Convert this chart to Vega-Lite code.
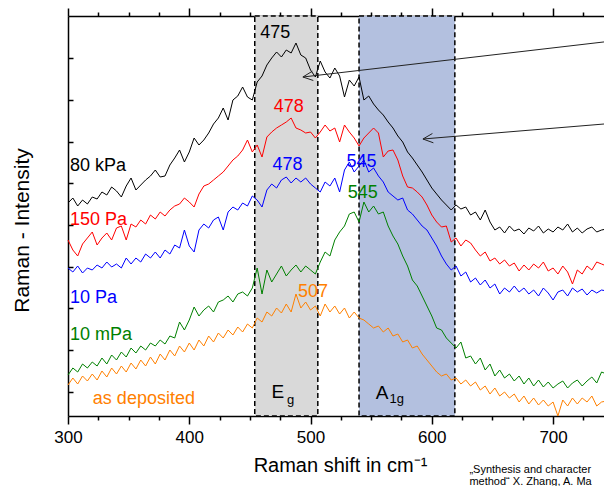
{
  "$schema": "https://vega.github.io/schema/vega-lite/v6.json",
  "width": 536,
  "height": 400,
  "autosize": {"type": "none"},
  "padding": {"left": 68, "top": 16, "right": 0, "bottom": 70},
  "background": "white",
  "config": {
    "view": {"stroke": null},
    "font": "Liberation Sans",
    "axis": {"domainColor": "black", "tickColor": "black", "domainWidth": 1.5, "tickWidth": 1.5, "grid": false, "labelColor": "black", "titleColor": "black", "labelFont": "Liberation Sans", "titleFont": "Liberation Sans", "titleFontWeight": "normal", "labelFlush": false}
  },
  "datasets": {
    "spec": [
      {"x":300,"k":213,"r":176,"p":148,"m":41,"d":31},
      {"x":304,"k":218,"r":166,"p":144,"m":48,"d":38},
      {"x":308,"k":210,"r":160,"p":150,"m":44,"d":32},
      {"x":312,"k":216,"r":172,"p":143,"m":52,"d":40},
      {"x":316,"k":212,"r":178,"p":148,"m":48,"d":35},
      {"x":320,"k":219,"r":184,"p":146,"m":54,"d":42},
      {"x":324,"k":217,"r":171,"p":151,"m":50,"d":36},
      {"x":328,"k":224,"r":178,"p":148,"m":58,"d":45},
      {"x":332,"k":221,"r":183,"p":154,"m":52,"d":39},
      {"x":336,"k":229,"r":176,"p":149,"m":61,"d":48},
      {"x":340,"k":225,"r":188,"p":152,"m":56,"d":42},
      {"x":344,"k":219,"r":190,"p":148,"m":64,"d":50},
      {"x":348,"k":230,"r":176,"p":158,"m":59,"d":44},
      {"x":352,"k":238,"r":192,"p":152,"m":68,"d":53},
      {"x":356,"k":226,"r":189,"p":158,"m":63,"d":47},
      {"x":360,"k":231,"r":196,"p":154,"m":70,"d":56},
      {"x":364,"k":236,"r":192,"p":162,"m":66,"d":50},
      {"x":368,"k":240,"r":201,"p":158,"m":73,"d":59},
      {"x":372,"k":246,"r":197,"p":164,"m":70,"d":52},
      {"x":376,"k":239,"r":204,"p":158,"m":76,"d":62},
      {"x":380,"k":240,"r":200,"p":166,"m":72,"d":56},
      {"x":384,"k":251,"r":206,"p":162,"m":80,"d":66},
      {"x":388,"k":258,"r":210,"p":171,"m":78,"d":60},
      {"x":392,"k":266,"r":212,"p":168,"m":94,"d":70},
      {"x":396,"k":254,"r":218,"p":186,"m":86,"d":64},
      {"x":400,"k":264,"r":214,"p":170,"m":96,"d":73},
      {"x":404,"k":278,"r":209,"p":164,"m":109,"d":66},
      {"x":408,"k":271,"r":222,"p":186,"m":100,"d":76},
      {"x":412,"k":276,"r":230,"p":192,"m":106,"d":70},
      {"x":416,"k":283,"r":232,"p":188,"m":110,"d":80},
      {"x":420,"k":292,"r":236,"p":196,"m":104,"d":74},
      {"x":424,"k":298,"r":240,"p":199,"m":114,"d":83},
      {"x":428,"k":308,"r":244,"p":186,"m":116,"d":78},
      {"x":432,"k":296,"r":250,"p":204,"m":120,"d":86},
      {"x":436,"k":316,"r":256,"p":209,"m":114,"d":81},
      {"x":440,"k":320,"r":260,"p":206,"m":122,"d":89},
      {"x":444,"k":329,"r":266,"p":213,"m":124,"d":84},
      {"x":448,"k":319,"r":276,"p":210,"m":120,"d":92},
      {"x":452,"k":316,"r":264,"p":220,"m":128,"d":88},
      {"x":456,"k":334,"r":271,"p":216,"m":148,"d":98},
      {"x":460,"k":340,"r":259,"p":209,"m":122,"d":94},
      {"x":464,"k":351,"r":279,"p":226,"m":146,"d":104},
      {"x":468,"k":358,"r":284,"p":232,"m":134,"d":100},
      {"x":472,"k":364,"r":288,"p":228,"m":142,"d":108},
      {"x":476,"k":359,"r":291,"p":236,"m":150,"d":103},
      {"x":480,"k":366,"r":294,"p":239,"m":140,"d":112},
      {"x":484,"k":363,"r":298,"p":233,"m":146,"d":104},
      {"x":488,"k":373,"r":288,"p":238,"m":151,"d":122},
      {"x":492,"k":361,"r":286,"p":234,"m":144,"d":108},
      {"x":496,"k":358,"r":283,"p":238,"m":150,"d":114},
      {"x":500,"k":346,"r":284,"p":232,"m":146,"d":106},
      {"x":504,"k":339,"r":278,"p":228,"m":142,"d":110},
      {"x":508,"k":355,"r":284,"p":224,"m":154,"d":100},
      {"x":512,"k":344,"r":291,"p":234,"m":164,"d":112},
      {"x":516,"k":338,"r":285,"p":230,"m":160,"d":104},
      {"x":520,"k":348,"r":288,"p":238,"m":176,"d":110},
      {"x":524,"k":340,"r":274,"p":224,"m":184,"d":102},
      {"x":528,"k":319,"r":291,"p":246,"m":190,"d":108},
      {"x":532,"k":336,"r":284,"p":254,"m":202,"d":98},
      {"x":536,"k":330,"r":278,"p":244,"m":204,"d":104},
      {"x":540,"k":339,"r":270,"p":250,"m":194,"d":98},
      {"x":544,"k":316,"r":278,"p":256,"m":214,"d":96},
      {"x":548,"k":320,"r":283,"p":244,"m":204,"d":92},
      {"x":552,"k":312,"r":288,"p":248,"m":210,"d":88},
      {"x":556,"k":306,"r":283,"p":240,"m":202,"d":90},
      {"x":560,"k":301,"r":259,"p":234,"m":204,"d":84},
      {"x":564,"k":294,"r":265,"p":224,"m":190,"d":88},
      {"x":568,"k":288,"r":266,"p":220,"m":180,"d":80},
      {"x":572,"k":280,"r":256,"p":216,"m":172,"d":82},
      {"x":576,"k":274,"r":240,"p":218,"m":160,"d":74},
      {"x":580,"k":264,"r":229,"p":206,"m":150,"d":76},
      {"x":584,"k":258,"r":228,"p":202,"m":136,"d":68},
      {"x":588,"k":251,"r":224,"p":196,"m":130,"d":70},
      {"x":592,"k":244,"r":219,"p":190,"m":120,"d":62},
      {"x":596,"k":236,"r":211,"p":186,"m":110,"d":56},
      {"x":600,"k":228,"r":201,"p":178,"m":100,"d":50},
      {"x":604,"k":222,"r":194,"p":170,"m":88,"d":44},
      {"x":608,"k":216,"r":189,"p":160,"m":86,"d":40},
      {"x":612,"k":211,"r":190,"p":152,"m":78,"d":42},
      {"x":616,"k":206,"r":174,"p":146,"m":73,"d":36},
      {"x":620,"k":211,"r":178,"p":150,"m":68,"d":38},
      {"x":624,"k":207,"r":170,"p":140,"m":74,"d":32},
      {"x":628,"k":209,"r":176,"p":144,"m":58,"d":36},
      {"x":632,"k":201,"r":173,"p":134,"m":60,"d":30},
      {"x":636,"k":204,"r":166,"p":138,"m":52,"d":34},
      {"x":640,"k":196,"r":160,"p":131,"m":58,"d":26},
      {"x":644,"k":206,"r":164,"p":136,"m":46,"d":30},
      {"x":648,"k":194,"r":155,"p":128,"m":52,"d":22},
      {"x":652,"k":186,"r":158,"p":132,"m":40,"d":28},
      {"x":656,"k":189,"r":152,"p":122,"m":46,"d":20},
      {"x":660,"k":183,"r":156,"p":128,"m":38,"d":24},
      {"x":664,"k":190,"r":150,"p":124,"m":42,"d":18},
      {"x":668,"k":185,"r":153,"p":130,"m":35,"d":22},
      {"x":672,"k":187,"r":145,"p":124,"m":40,"d":14},
      {"x":676,"k":182,"r":151,"p":128,"m":32,"d":20},
      {"x":680,"k":188,"r":146,"p":122,"m":38,"d":12},
      {"x":684,"k":185,"r":152,"p":126,"m":30,"d":18},
      {"x":688,"k":190,"r":148,"p":120,"m":36,"d":11},
      {"x":692,"k":183,"r":154,"p":128,"m":29,"d":16},
      {"x":696,"k":187,"r":145,"p":123,"m":34,"d":10},
      {"x":700,"k":184,"r":148,"p":116,"m":28,"d":14},
      {"x":704,"k":189,"r":142,"p":124,"m":32,"d":0},
      {"x":708,"k":186,"r":150,"p":126,"m":35,"d":16},
      {"x":712,"k":192,"r":144,"p":120,"m":28,"d":10},
      {"x":716,"k":184,"r":132,"p":128,"m":33,"d":18},
      {"x":720,"k":188,"r":146,"p":124,"m":36,"d":12},
      {"x":724,"k":183,"r":142,"p":127,"m":30,"d":18},
      {"x":728,"k":187,"r":150,"p":121,"m":35,"d":14},
      {"x":732,"k":189,"r":146,"p":126,"m":39,"d":20},
      {"x":736,"k":184,"r":154,"p":123,"m":33,"d":10},
      {"x":740,"k":186,"r":152,"p":126,"m":44,"d":14},
      {"x":744,"k":187,"r":150,"p":125,"m":42,"d":15}
    ]
  },
  "resolve": {"axis": {"x": "independent", "y": "independent"}},
  "layer": [
    {
      "data": {"values": [{"a": 454, "b": 506, "band": "Eg"}, {"a": 540, "b": 619, "band": "A1g"}]},
      "mark": {"type": "rect", "stroke": "black", "strokeWidth": 1.5, "strokeDash": [5, 3]},
      "encoding": {
        "x": {"field": "a", "type": "quantitative", "scale": {"domain": [300, 742], "nice": false, "zero": false},
              "axis": {"orient": "top", "title": null, "labels": false, "values": [300,325,350,375,400,425,450,475,500,525,550,575,600,625,650,675,700,725],
                       "tickSize": {"condition": {"test": "datum.value % 100 === 0", "value": 8}, "value": 4}}},
        "x2": {"field": "b"},
        "fill": {"field": "band", "type": "nominal", "scale": {"domain": ["Eg", "A1g"], "range": ["#d9d9d9", "#b3c0df"]}, "legend": null}
      }
    },
    {
      "data": {"name": "spec"},
      "transform": [{"fold": ["k", "r", "p", "m", "d"], "as": ["s", "v"]}],
      "mark": {"type": "line", "strokeWidth": 1},
      "encoding": {
        "x": {"field": "x", "type": "quantitative", "scale": {"domain": [300, 742], "nice": false, "zero": false},
              "axis": {"orient": "bottom", "title": "Raman shift in cm⁻¹", "titleFontSize": 20, "titleX": 272, "titleY": 55, "titleBaseline": "alphabetic",
                       "values": [300,325,350,375,400,425,450,475,500,525,550,575,600,625,650,675,700,725],
                       "labelExpr": "datum.value % 100 === 0 ? datum.label : ''", "labelFontSize": 17, "labelPadding": 5, "labelFlush": false,
                       "tickSize": {"condition": {"test": "datum.value % 100 === 0", "value": 8}, "value": 4}}},
        "y": {"field": "v", "type": "quantitative", "scale": {"domain": [0, 400], "nice": false, "zero": false},
              "axis": {"orient": "left", "title": "Raman - Intensity", "titleFontSize": 21, "titleX": -40, "titleY": 214, "titleAngle": -90, "titleAlign": "center", "titleBaseline": "alphabetic",
                       "labels": false, "values": [24.3, 66, 107.7, 149.3, 191, 232.7, 274.3, 316, 357.7], "tickSize": -5}},
        "color": {"field": "s", "type": "nominal", "scale": {"domain": ["k", "r", "p", "m", "d"], "range": ["#000000", "#ff0000", "#0000ff", "#008000", "#ff8000"]}, "legend": null},
        "order": {"field": "x", "type": "quantitative"}
      }
    },
    {
      "data": {"values": [
        {"t": "475", "x": 471, "y": 378, "s": "k"},
        {"t": "478", "x": 482, "y": 304, "s": "r"},
        {"t": "478", "x": 481, "y": 246, "s": "p"},
        {"t": "545", "x": 542, "y": 249, "s": "p"},
        {"t": "545", "x": 543, "y": 218, "s": "m"},
        {"t": "507", "x": 502, "y": 119, "s": "d"}
      ]},
      "mark": {"type": "text", "fontSize": 18, "align": "center", "baseline": "alphabetic"},
      "encoding": {
        "x": {"field": "x", "type": "quantitative", "scale": {"domain": [300, 742], "nice": false, "zero": false}, "axis": null},
        "y": {"field": "y", "type": "quantitative", "scale": {"domain": [0, 400], "nice": false, "zero": false}, "axis": null},
        "text": {"field": "t"},
        "color": {"field": "s", "type": "nominal", "legend": null}
      }
    },
    {
      "data": {"values": [
        {"t": "80 kPa", "x": 301.6, "y": 245, "s": "k"},
        {"t": "150 Pa", "x": 301.6, "y": 191, "s": "r"},
        {"t": "10 Pa", "x": 301.6, "y": 113, "s": "p"},
        {"t": "10 mPa", "x": 301.6, "y": 76, "s": "m"},
        {"t": "as deposited", "x": 320.5, "y": 12, "s": "d"}
      ]},
      "mark": {"type": "text", "fontSize": 18, "align": "left", "baseline": "alphabetic"},
      "encoding": {
        "x": {"field": "x", "type": "quantitative", "scale": {"domain": [300, 742], "nice": false, "zero": false}, "axis": null},
        "y": {"field": "y", "type": "quantitative", "scale": {"domain": [0, 400], "nice": false, "zero": false}, "axis": null},
        "text": {"field": "t"},
        "color": {"field": "s", "type": "nominal", "legend": null}
      }
    },
    {
      "data": {"values": [
        {"t": "E", "x": 473, "y": 18},
        {"t": "A", "x": 559, "y": 17}
      ]},
      "mark": {"type": "text", "fontSize": 19, "align": "center", "baseline": "alphabetic", "color": "black"},
      "encoding": {
        "x": {"field": "x", "type": "quantitative", "scale": {"domain": [300, 742], "nice": false, "zero": false}, "axis": null},
        "y": {"field": "y", "type": "quantitative", "scale": {"domain": [0, 400], "nice": false, "zero": false}, "axis": null},
        "text": {"field": "t"}
      }
    },
    {
      "data": {"values": [
        {"t": "g", "x": 483.5, "y": 12},
        {"t": "1g", "x": 571, "y": 13}
      ]},
      "mark": {"type": "text", "fontSize": 13, "align": "center", "baseline": "alphabetic", "color": "black"},
      "encoding": {
        "x": {"field": "x", "type": "quantitative", "scale": {"domain": [300, 742], "nice": false, "zero": false}, "axis": null},
        "y": {"field": "y", "type": "quantitative", "scale": {"domain": [0, 400], "nice": false, "zero": false}, "axis": null},
        "text": {"field": "t"}
      }
    },
    {
      "data": {"values": [
        {"x1": 760, "y1": 376.6, "x2": 493.7, "y2": 339},
        {"x1": 502.3, "y1": 335.5, "x2": 493.7, "y2": 339},
        {"x1": 501.5, "y1": 344.8, "x2": 493.7, "y2": 339},
        {"x1": 760, "y1": 293.8, "x2": 592.7, "y2": 277},
        {"x1": 601.3, "y1": 273.2, "x2": 592.7, "y2": 277},
        {"x1": 600.5, "y1": 282.5, "x2": 592.7, "y2": 277}
      ]},
      "mark": {"type": "rule", "color": "#222222", "strokeWidth": 1},
      "encoding": {
        "x": {"field": "x1", "type": "quantitative", "scale": {"domain": [300, 742], "nice": false, "zero": false}, "axis": null},
        "y": {"field": "y1", "type": "quantitative", "scale": {"domain": [0, 400], "nice": false, "zero": false}, "axis": null},
        "x2": {"field": "x2"},
        "y2": {"field": "y2"}
      }
    },
    {
      "data": {"values": [
        {"t": "„Synthesis and character", "x": 631, "y": -57},
        {"t": "method“ X. Zhang, A. Ma", "x": 631, "y": -69}
      ]},
      "mark": {"type": "text", "fontSize": 11, "align": "left", "baseline": "alphabetic", "color": "black"},
      "encoding": {
        "x": {"field": "x", "type": "quantitative", "scale": {"domain": [300, 742], "nice": false, "zero": false}, "axis": null},
        "y": {"field": "y", "type": "quantitative", "scale": {"domain": [0, 400], "nice": false, "zero": false}, "axis": null},
        "text": {"field": "t"}
      }
    }
  ]
}
